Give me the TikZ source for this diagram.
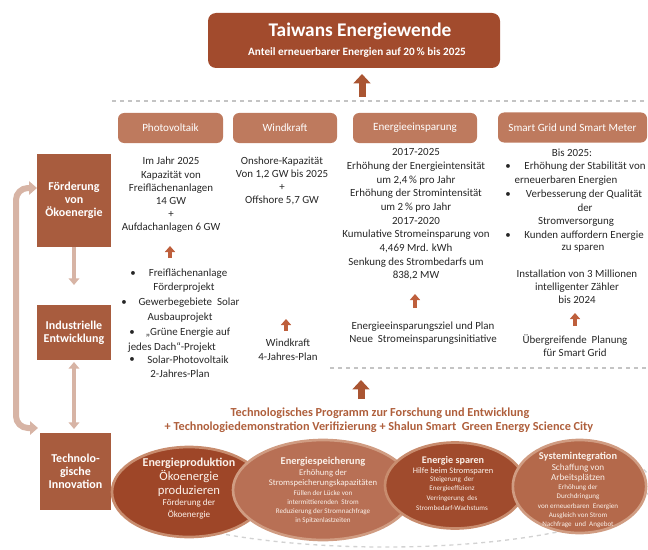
\documentclass[tikz,border=0pt]{standalone}
\usepackage{fontspec}
\setmainfont{Carlito}
\usetikzlibrary{arrows.meta,shapes.geometric,calc}
\definecolor{titlec}{HTML}{A24B2D}
\definecolor{catc}{HTML}{BE7A5E}
\definecolor{sidec}{HTML}{A85C3E}
\definecolor{loopc}{HTML}{D7B4A5}
\definecolor{sarrc}{HTML}{BE5F3C}
\definecolor{arrc}{HTML}{AA5532}
\definecolor{progc}{HTML}{AF5F3C}
\definecolor{bodyc}{HTML}{262626}
\definecolor{dashc}{HTML}{C4C4C4}
\definecolor{arcc}{HTML}{D2D2D2}
\definecolor{eonef}{HTML}{9E4628}
\definecolor{eoner}{HTML}{C88C6E}
\definecolor{etwof}{HTML}{B87055}
\definecolor{etwor}{HTML}{D09C82}
\definecolor{ethreef}{HTML}{A04B2D}
\definecolor{ethreer}{HTML}{C88C6E}
\definecolor{efourf}{HTML}{B4694B}
\definecolor{efourr}{HTML}{D09C82}
\definecolor{etc}{HTML}{FBF1EA}
\tikzset{
 catbox/.style={fill=catc, rounded corners=4.5pt, text=white, font=\fontsize{8.3}{10}\selectfont, minimum height=22.5pt, inner sep=0},
 sidebox/.style={fill=sidec, text=white, font=\bfseries\fontsize{9}{9.8}\selectfont, align=center, inner sep=0},
 body/.style={inner sep=0, text=bodyc, font=\fontsize{8.2}{9.9}\selectfont, align=center},
 bigarrow/.style={draw=arrc, line width=5.25pt, -{Triangle[width=12.5pt,length=7pt]}},
 smallarrow/.style={draw=sarrc, line width=3pt, -{Triangle[width=7.5pt,length=4.5pt]}},
 looparrow/.style={draw=loopc, line width=4.5pt, rounded corners=9pt, {Triangle[width=10pt,length=6pt]}-{Triangle[width=10pt,length=6pt]}},
 sidearrow/.style={draw=loopc, line width=3pt},
 dashline/.style={draw=dashc, line width=1.2pt, dash pattern=on 3pt off 3pt},
 arcline/.style={draw=arcc, line width=1pt, dash pattern=on 3pt off 3pt},
 ell/.style={ellipse, inner sep=0, line width=2pt},
 etext/.style={inner sep=0, text=etc},
 prog/.style={inner sep=0, text=progc, font=\bfseries\fontsize{9.2}{11}\selectfont},
}
\begin{document}
\begin{tikzpicture}[x=0.75pt,y=-0.75pt]
\useasboundingbox (0,0) rectangle (648,549);

% outer dashed arc behind the ellipses
\draw[arcline] (385,484) ++(200:266 and 63) arc[start angle=200, end angle=-30, x radius=266, y radius=63];

% title
\node[fill=titlec, rounded corners=6pt, minimum width=219pt, minimum height=41.25pt, inner sep=0] (title) at (354,40.5) {};
\node[inner sep=0, text=white, font=\bfseries\fontsize{14.5}{16}\selectfont] (ttlA) at (360,31) {Taiwans Energiewende};
\node[inner sep=0, text=white, font=\bfseries\fontsize{8.4}{10}\selectfont] (ttlB) at (357,53) {Anteil erneuerbarer Energien auf 20\,\% bis 2025};

\coordinate (upA) at (362,97);
\coordinate (upB) at (362,74);
\draw[bigarrow] (upA) -- (upB);

% dashed separators
\coordinate (dA1) at (112,101);
\coordinate (dA2) at (648,101);
\draw[dashline] (dA1) -- (dA2);
\coordinate (dB1) at (330,368);
\coordinate (dB2) at (648,368);
\draw[dashline] (dB1) -- (dB2);

% category boxes
\node[catbox, minimum width=78.75pt] (pv) at (170.5,128) {Photovoltaik};
\node[catbox, minimum width=78pt] (wk) at (285,128) {Windkraft};
\node[catbox, minimum width=93pt] (es) at (415,128) {Energieeinsparung};
\node[catbox, minimum width=111.75pt] (sg) at (572.5,127.5) {Smart Grid und Smart Meter};

% left boxes
\node[sidebox, minimum width=55.5pt, minimum height=69.75pt] (foerd) at (74,200.5) {Förderung\\von\\Ökoenergie};
\node[sidebox, minimum width=55.5pt, minimum height=41.25pt] (indus) at (74,332.5) {Industrielle\\Entwicklung};
\node[sidebox, minimum width=53.25pt, minimum height=57.75pt] (tech) at (75.5,471.5) {Technolo-\\gische\\Innovation};

% left arrows
\coordinate (fiEnd) at (74,285);
\draw[sidearrow, -{Triangle[width=8pt,length=5pt]}] (foerd.south) -- (fiEnd);
\coordinate (itA) at (74,362);
\coordinate (itB) at (74,429);
\draw[sidearrow, {Triangle[width=8pt,length=5pt]}-{Triangle[width=8pt,length=5pt]}] (itA) -- (itB);
\coordinate (lpA) at (38,428);
\coordinate (lpB) at (37,188);
\draw[looparrow] (lpA) -- (16,428) -- (16,188) -- (lpB);

% Photovoltaik column
\node[body] (pvT) at (171,195) {Im Jahr 2025\\Kapazität von\\Freiflächenanlagen\\14 GW\\+\\Aufdachanlagen 6 GW};
\coordinate (pvA1) at (170,258);
\coordinate (pvA2) at (170,246);
\draw[smallarrow] (pvA1) -- (pvA2);
\node[body] (pvb1) at (133,274) {•};
\node[body] (pvl1) at (188,274) {Freiflächenanlage};
\node[body] (pvl2) at (184,288) {Förderprojekt};
\node[body] (pvb2) at (124,303) {•};
\node[body] (pvl3) at (189,303) {Gewerbegebiete\ \ Solar};
\node[body] (pvl4) at (180,318) {Ausbauprojekt};
\node[body] (pvb3) at (132,333) {•};
\node[body] (pvl5) at (188,333) {„Grüne Energie auf};
\node[body] (pvl6) at (172,347) {jedes Dach“-Projekt};
\node[body] (pvb4) at (132,360) {•};
\node[body] (pvl7) at (188,360) {Solar-Photovoltaik};
\node[body] (pvl8) at (180,374) {2-Jahres-Plan};

% Windkraft column
\node[body, font=\fontsize{8.2}{9.6}\selectfont] (wkT) at (282,181) {Onshore-Kapazität\\Von 1,2 GW bis 2025\\+\\Offshore 5,7 GW};
\coordinate (wkA1) at (286,331);
\coordinate (wkA2) at (286,319);
\draw[smallarrow] (wkA1) -- (wkA2);
\node[body, font=\fontsize{8.2}{10.5}\selectfont] (wkB) at (288,350) {Windkraft\\4-Jahres-Plan};

% Energieeinsparung column
\node[body, font=\fontsize{8.2}{10.25}\selectfont] (esT) at (416,214.5) {2017-2025\\Erhöhung der Energieintensität\\um 2,4\,\% pro Jahr\\Erhöhung der Stromintensität\\um 2\,\% pro Jahr\\2017-2020\\Kumulative Stromeinsparung von\\4,469 Mrd. kWh\\Senkung des Strombedarfs um\\838,2 MW};
\coordinate (esA1) at (415,308);
\coordinate (esA2) at (415,294);
\draw[smallarrow] (esA1) -- (esA2);
\node[body] (esB) at (423,333.5) {Energieeinsparungsziel und Plan\\Neue\ \ Stromeinsparungsinitiative};

% Smart Grid column
\node[body] (sg0) at (572,153) {Bis 2025:};
\node[body] (sgb1) at (508,167) {•};
\node[body] (sg1) at (585,167) {Erhöhung der Stabilität von};
\node[body] (sg2) at (566,181) {erneuerbaren Energien};
\node[body] (sgb2) at (508,195) {•};
\node[body] (sg3) at (584,195) {Verbesserung der Qualität};
\node[body] (sg4) at (585,208) {der};
\node[body] (sg5) at (576,222) {Stromversorgung};
\node[body] (sgb3) at (508,236) {•};
\node[body] (sg6) at (584,236) {Kunden auffordern Energie};
\node[body] (sg7) at (583,249) {zu sparen};
\node[body, font=\fontsize{8.2}{9.8}\selectfont] (sg8) at (577,287) {Installation von 3 Millionen\\intelligenter Zähler\\bis 2024};
\coordinate (sgA1) at (575,326);
\coordinate (sgA2) at (575,313);
\draw[smallarrow] (sgA1) -- (sgA2);
\node[body] (sgB) at (575,345.5) {Übergreifende\ \ Planung\\für Smart Grid};

% programme arrow and text
\coordinate (pgA1) at (361,399);
\coordinate (pgA2) at (361,380);
\draw[bigarrow] (pgA1) -- (pgA2);
\node[prog] (pg1) at (380,413) {Technologisches Programm zur Forschung und Entwicklung};
\node[prog] (pg2) at (379,427) {+ Technologiedemonstration Verifizierung + Shalun Smart\ \ Green Energy Science City};

% ellipses
\node[ell, fill=eonef, draw=eoner, minimum width=115.5pt, minimum height=67.5pt] (e1) at (189,492) {};
\node[ell, fill=etwof, draw=etwor, minimum width=135pt, minimum height=75pt] (e2) at (323,490) {};
\node[ell, fill=ethreef, draw=ethreer, minimum width=105pt, minimum height=64.5pt] (e3) at (455,485.5) {};
\node[ell, fill=efourf, draw=efourr, minimum width=100pt, minimum height=69.75pt] (e4) at (579.5,486.5) {};

% ellipse texts
\node[etext, font=\bfseries\fontsize{9}{10}\selectfont] (e1a) at (189,463) {Energieproduktion};
\node[etext, font=\fontsize{9.5}{10}\selectfont] (e1b) at (189,477) {Ökoenergie};
\node[etext, font=\fontsize{9.5}{10}\selectfont] (e1c) at (189,491) {produzieren};
\node[etext, font=\fontsize{6.8}{8}\selectfont] (e1d) at (189,503) {Förderung der};
\node[etext, font=\fontsize{6.8}{8}\selectfont] (e1e) at (189,515) {Ökoenergie};

\node[etext, font=\bfseries\fontsize{7.8}{9}\selectfont] (e2a) at (323,462) {Energiespeicherung};
\node[etext, font=\fontsize{6.5}{8}\selectfont] (e2b) at (323,473) {Erhöhung der};
\node[etext, font=\fontsize{6.5}{8}\selectfont] (e2c) at (323,483) {Stromspeicherungskapazitäten};
\node[etext, font=\fontsize{5.3}{6}\selectfont] (e2d) at (323,493) {Füllen der Lücke von};
\node[etext, font=\fontsize{5.3}{6}\selectfont] (e2e) at (323,502) {intermittierenden\ \ Strom};
\node[etext, font=\fontsize{5.3}{6}\selectfont] (e2f) at (323,512) {Reduzierung der Stromnachfrage};
\node[etext, font=\fontsize{5.3}{6}\selectfont] (e2g) at (323,521) {in Spitzenlastzeiten};

\node[etext, font=\bfseries\fontsize{7.6}{9}\selectfont] (e3a) at (453,461) {Energie sparen};
\node[etext, font=\fontsize{6.3}{8}\selectfont] (e3b) at (453,471) {Hilfe beim Stromsparen};
\node[etext, font=\fontsize{5.3}{6}\selectfont] (e3c) at (452,480) {Steigerung\ \ der};
\node[etext, font=\fontsize{5.3}{6}\selectfont] (e3d) at (452,489) {Energieeffizienz};
\node[etext, font=\fontsize{5.3}{6}\selectfont] (e3e) at (452,499) {Verringerung\ \ des};
\node[etext, font=\fontsize{5.3}{6}\selectfont] (e3f) at (452,508) {Strombedarf-Wachstums};

\node[etext, font=\bfseries\fontsize{7.8}{9}\selectfont] (e4a) at (578,457) {Systemintegration};
\node[etext, font=\fontsize{6.9}{8}\selectfont] (e4b) at (578,468) {Schaffung von};
\node[etext, font=\fontsize{6.9}{8}\selectfont] (e4c) at (578,478) {Arbeitsplätzen};
\node[etext, font=\fontsize{5.3}{6}\selectfont] (e4d) at (578,488) {Erhöhung der};
\node[etext, font=\fontsize{5.3}{6}\selectfont] (e4e) at (578,497) {Durchdringung};
\node[etext, font=\fontsize{5.3}{6}\selectfont] (e4f) at (578,507) {von erneuerbaren\ \ Energien};
\node[etext, font=\fontsize{5.3}{6}\selectfont] (e4g) at (578,516) {Ausgleich von Strom};
\node[etext, font=\fontsize{5.3}{6}\selectfont] (e4h) at (578,525) {Nachfrage\ \ und\ \ Angebot};
\end{tikzpicture}
\end{document}
